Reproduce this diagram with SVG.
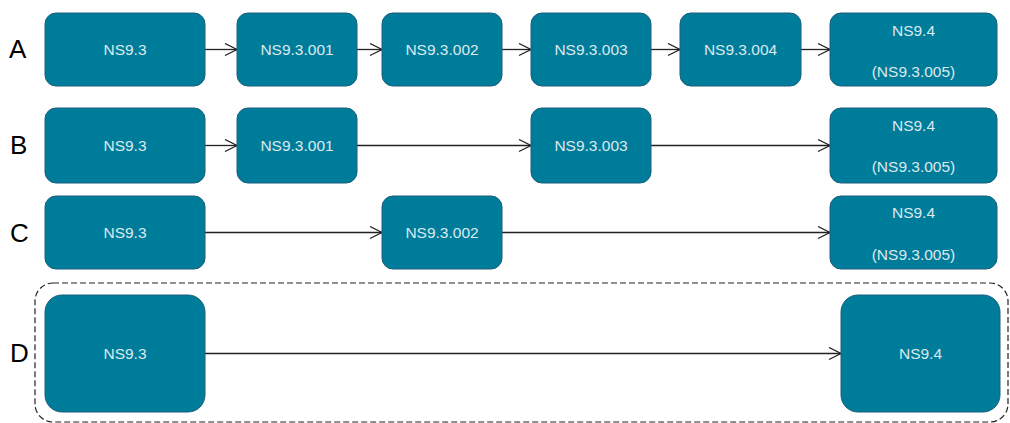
<svg xmlns="http://www.w3.org/2000/svg" width="1010" height="423" viewBox="0 0 1010 423">
<style>
.n{fill:#007c9b;stroke:#1a5f7a;stroke-width:1}
.t{font-family:"Liberation Sans",Arial,sans-serif;font-size:15.5px;fill:#dce9ee;text-anchor:middle;dominant-baseline:central}
.lbl{font-family:"Liberation Sans",Arial,sans-serif;font-size:26px;fill:#000;dominant-baseline:central}
.c{stroke:#222;stroke-width:1.3;fill:none;marker-end:url(#a)}
</style>
<defs>
<marker id="a" markerUnits="userSpaceOnUse" markerWidth="16" markerHeight="16" refX="13" refY="7" orient="auto">
<path d="M1,1 L13,7 L1,13" fill="none" stroke="#222" stroke-width="1.3"/>
</marker>
</defs>
<rect x="35" y="283" width="973" height="139" rx="18" fill="none" stroke="#222" stroke-width="1.2" stroke-dasharray="6 3"/>
<g id="labels">
<text class="lbl" x="9" y="49">A</text>
<text class="lbl" x="10" y="145">B</text>
<text class="lbl" x="10" y="233">C</text>
<text class="lbl" x="10" y="353">D</text>
</g>
<g id="connectors">
<line class="c" x1="205" y1="49.5" x2="237" y2="49.5"/>
<line class="c" x1="357" y1="49.5" x2="382" y2="49.5"/>
<line class="c" x1="502" y1="49.5" x2="531" y2="49.5"/>
<line class="c" x1="651" y1="49.5" x2="680" y2="49.5"/>
<line class="c" x1="801" y1="49.5" x2="830" y2="49.5"/>
<line class="c" x1="205" y1="145.5" x2="237" y2="145.5"/>
<line class="c" x1="357" y1="145.5" x2="531" y2="145.5"/>
<line class="c" x1="651" y1="145.5" x2="830" y2="145.5"/>
<line class="c" x1="205" y1="232.5" x2="382" y2="232.5"/>
<line class="c" x1="502" y1="232.5" x2="830" y2="232.5"/>
<line class="c" x1="205" y1="353.5" x2="841" y2="353.5"/>
</g>
<g id="a1"><rect class="n" x="45" y="13" width="160" height="73" rx="11"/><text class="t" x="125" y="49.5">NS9.3</text></g>
<g id="a2"><rect class="n" x="237" y="13" width="120" height="73" rx="11"/><text class="t" x="297" y="49.5">NS9.3.001</text></g>
<g id="a3"><rect class="n" x="382" y="13" width="120" height="73" rx="11"/><text class="t" x="442" y="49.5">NS9.3.002</text></g>
<g id="a4"><rect class="n" x="531" y="13" width="120" height="73" rx="11"/><text class="t" x="591" y="49.5">NS9.3.003</text></g>
<g id="a5"><rect class="n" x="680" y="13" width="121" height="73" rx="11"/><text class="t" x="740.5" y="49.5">NS9.3.004</text></g>
<g id="a6"><rect class="n" x="830" y="13" width="167" height="73" rx="11"/><text class="t" x="913.5" y="30">NS9.4</text><text class="t" x="913.5" y="71">(NS9.3.005)</text></g>
<g id="b1"><rect class="n" x="45" y="108" width="160" height="75" rx="11"/><text class="t" x="125" y="145.5">NS9.3</text></g>
<g id="b2"><rect class="n" x="237" y="108" width="120" height="75" rx="11"/><text class="t" x="297" y="145.5">NS9.3.001</text></g>
<g id="b3"><rect class="n" x="531" y="108" width="120" height="75" rx="11"/><text class="t" x="591" y="145.5">NS9.3.003</text></g>
<g id="b4"><rect class="n" x="830" y="108" width="167" height="75" rx="11"/><text class="t" x="913.5" y="125">NS9.4</text><text class="t" x="913.5" y="166">(NS9.3.005)</text></g>
<g id="c1"><rect class="n" x="45" y="196" width="160" height="73" rx="11"/><text class="t" x="125" y="232.5">NS9.3</text></g>
<g id="c2"><rect class="n" x="382" y="196" width="120" height="73" rx="11"/><text class="t" x="442" y="232.5">NS9.3.002</text></g>
<g id="c3"><rect class="n" x="830" y="196" width="167" height="73" rx="11"/><text class="t" x="913.5" y="212">NS9.4</text><text class="t" x="913.5" y="254">(NS9.3.005)</text></g>
<g id="d1"><rect class="n" x="45" y="295" width="160" height="117" rx="17"/><text class="t" x="125" y="353.5">NS9.3</text></g>
<g id="d2"><rect class="n" x="841" y="295" width="159" height="117" rx="17"/><text class="t" x="920.5" y="353.5">NS9.4</text></g>
</svg>
